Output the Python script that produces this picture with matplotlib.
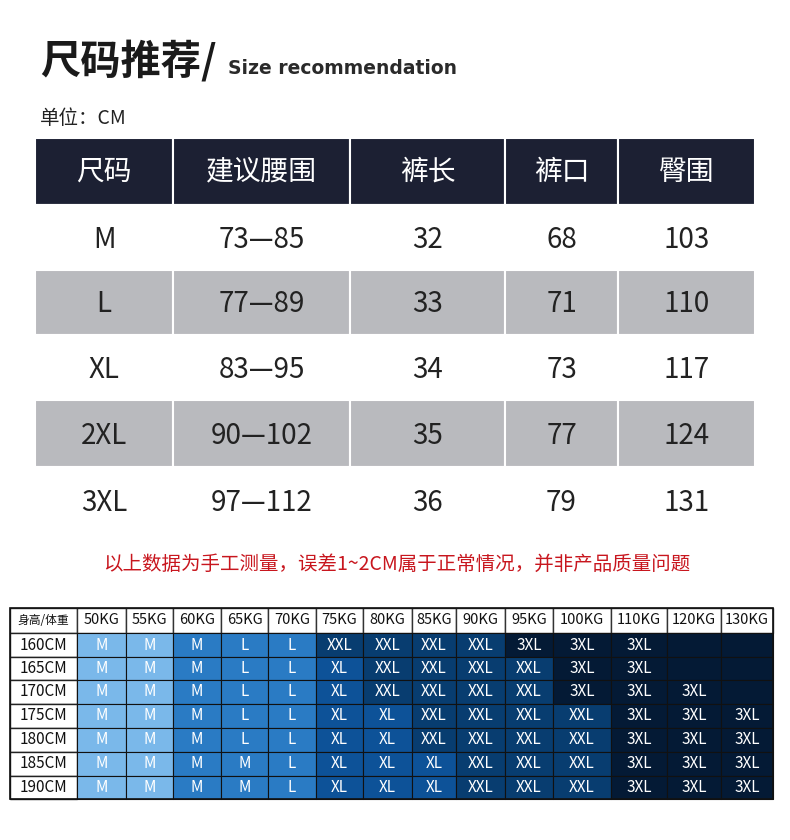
import matplotlib
matplotlib.use('Agg')
import matplotlib.pyplot as plt
from matplotlib.patches import Rectangle

plt.rcParams['font.family'] = ['Noto Sans CJK SC', 'DejaVu Sans']

# 上表
top_header = ['尺码', '建议腰围', '裤长', '裤口', '臀围']
sizes = ['M', 'L', 'XL', '2XL', '3XL']
waist = ['73—85', '77—89', '83—95', '90—102', '97—112']
length = ['32', '33', '34', '35', '36']
hem = ['68', '71', '73', '77', '79']
hip = ['103', '110', '117', '124', '131']

# 下表
weights = ['50KG', '55KG', '60KG', '65KG', '70KG', '75KG', '80KG', '85KG', '90KG', '95KG',
           '100KG', '110KG', '120KG', '130KG']
heights = ['160CM', '165CM', '170CM', '175CM', '180CM', '185CM', '190CM']
grid = [
    'M M M L L XXL XXL XXL XXL 3XL 3XL 3XL - -',
    'M M M L L XL XXL XXL XXL XXL 3XL 3XL - -',
    'M M M L L XL XXL XXL XXL XXL 3XL 3XL 3XL -',
    'M M M L L XL XL XXL XXL XXL XXL 3XL 3XL 3XL',
    'M M M L L XL XL XXL XXL XXL XXL 3XL 3XL 3XL',
    'M M M M L XL XL XL XXL XXL XXL 3XL 3XL 3XL',
    'M M M M L XL XL XL XXL XXL XXL 3XL 3XL 3XL',
]

fig = plt.figure(figsize=(7.9, 8.4), dpi=100, facecolor='white')
ax = fig.add_axes([0, 0, 1, 1])
ax.set_xlim(0, 790)
ax.set_ylim(840, 0)
ax.axis('off')

ax.text(40, 62, '尺码推荐/', fontsize=29, fontweight='bold', color='#1a1a1a', va='center')
ax.text(228, 68, 'Size recommendation', fontsize=13.5, fontweight='bold', color='#2a2a2a',
        va='center', family='DejaVu Sans')
ax.text(40, 119, '单位：CM', fontsize=14, color='#222', va='center')

# 上表
xs = [35, 173, 350, 505, 618, 755]
ys = [138, 205, 270, 335, 400, 467, 535]
cols = [sizes, waist, length, hem, hip]
for j in range(5):
    ax.add_patch(Rectangle((xs[j], ys[0]), xs[j + 1] - xs[j], ys[1] - ys[0],
                           fc='#1c2033', ec='white', lw=1.5))
    ax.text((xs[j] + xs[j + 1]) / 2, (ys[0] + ys[1]) / 2, top_header[j], color='white',
            fontsize=20, ha='center', va='center')
for i in range(5):
    for j in range(5):
        fc = '#b9babe' if i % 2 == 1 else 'white'
        ax.add_patch(Rectangle((xs[j], ys[i + 1]), xs[j + 1] - xs[j], ys[i + 2] - ys[i + 1],
                               fc=fc, ec='white', lw=1.5))
        ax.text((xs[j] + xs[j + 1]) / 2, (ys[i + 1] + ys[i + 2]) / 2 + 2, cols[j][i],
                color='#222', fontsize=20, ha='center', va='center')

ax.text(397, 564, '以上数据为手工测量，误差1~2CM属于正常情况，并非产品质量问题',
        color='#c8161e', fontsize=14, ha='center', va='center')

# 下表
bx = [10, 77, 126, 173, 221, 268, 316, 363, 412, 456, 505, 553, 611, 667, 721, 773]
by = [608, 633, 657, 680, 704, 728, 752, 776, 799]
colors = {'XL': '#0d5298', 'XXL': '#083d70', '3XL': '#041a35', '-': '#041a35'}
for j in range(15):
    lab = '身高/体重' if j == 0 else weights[j - 1]
    ax.add_patch(Rectangle((bx[j], by[0]), bx[j + 1] - bx[j], by[1] - by[0],
                           fc='white', ec='#333', lw=1))
    ax.text((bx[j] + bx[j + 1]) / 2, (by[0] + by[1]) / 2, lab, fontsize=8.5 if j == 0 else 10.5,
            ha='center', va='center', color='#111')
for i, h in enumerate(heights):
    y0, y1 = by[i + 1], by[i + 2]
    ax.add_patch(Rectangle((bx[0], y0), bx[1] - bx[0], y1 - y0, fc='white', ec='#222', lw=1))
    ax.text((bx[0] + bx[1]) / 2, (y0 + y1) / 2, h, fontsize=11, ha='center', va='center',
            color='#111')
    for j, s in enumerate(grid[i].split()):
        if s == 'M':
            fc = '#7ab8ea' if j < 2 else '#2a7bc4'
        elif s == 'L':
            fc = '#2a7bc4'
        else:
            fc = colors[s]
        ax.add_patch(Rectangle((bx[j + 1], y0), bx[j + 2] - bx[j + 1], y1 - y0,
                               fc=fc, ec='#111', lw=0.8))
        if s != '-':
            ax.text((bx[j + 1] + bx[j + 2]) / 2, (y0 + y1) / 2, s, fontsize=11,
                    ha='center', va='center', color='white')
ax.add_patch(Rectangle((bx[0], by[0]), bx[-1] - bx[0], by[-1] - by[0],
                       fc='none', ec='#111', lw=1.2))

fig.savefig('out.png', dpi=100, facecolor='white')
